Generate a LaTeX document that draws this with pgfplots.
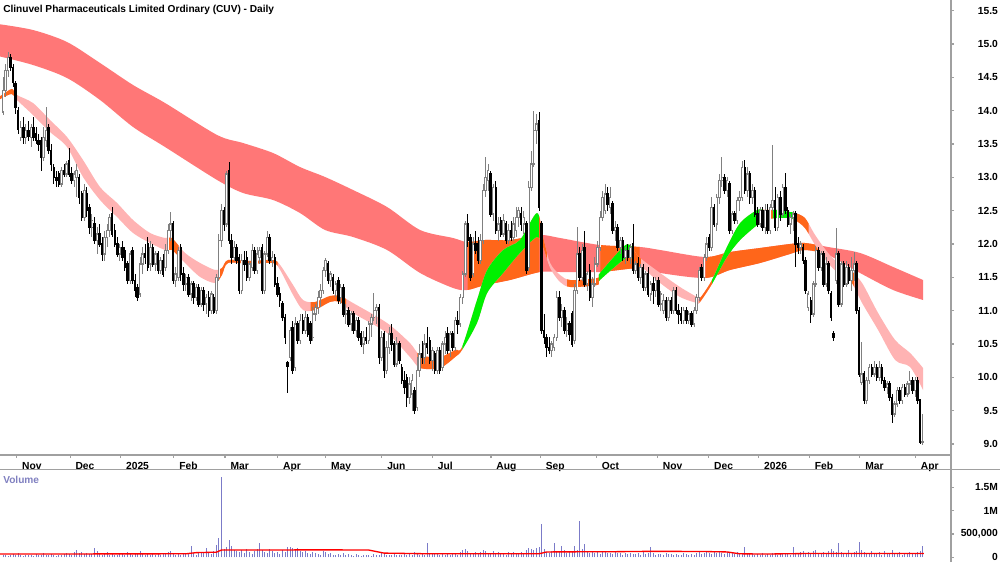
\documentclass[border=0pt]{standalone}
\usepackage{pgfplots}
\pgfplotsset{compat=1.18}
\usepackage{pgfplotstable}
\usepgfplotslibrary{fillbetween}
\usepackage{fontspec}
\setmainfont{Liberation Sans}

\definecolor{lred}{HTML}{FF7777}
\definecolor{spink}{HTML}{FFB3B3}
\definecolor{orng}{HTML}{FF661A}
\definecolor{grn}{HTML}{00F000}
\definecolor{volc}{HTML}{7B7BC8}
\definecolor{upg}{HTML}{808080}
\definecolor{axg}{HTML}{A0A0A0}
\definecolor{vlab}{HTML}{8080C0}

\pgfplotstableread{
o h l c
13.98 14.50 13.93 14.30
14.30 14.70 14.20 14.60
14.60 14.88 14.50 14.80
14.80 14.85 14.60 14.65
14.65 14.70 14.35 14.42
14.40 14.45 13.95 14.05
14.00 14.05 13.65 13.72
13.60 13.85 13.55 13.75
13.75 13.90 13.50 13.60
13.60 13.80 13.50 13.70
13.70 13.85 13.55 13.62
13.60 13.80 13.45 13.75
13.75 13.90 13.55 13.60
13.65 13.75 13.50 13.55
13.55 13.65 13.40 13.50
13.55 13.60 13.10 13.30
13.30 13.75 13.25 13.60
13.55 14.05 13.45 13.70
13.75 13.80 13.35 13.40
13.40 13.50 13.10 13.20
13.15 13.20 12.90 13.00
13.00 13.10 12.85 12.95
13.05 13.10 12.85 12.90
12.90 13.15 12.85 13.10
13.10 13.20 13.00 13.05
13.05 13.25 13.00 13.20
13.25 13.44 13.00 13.05
13.05 13.15 12.90 12.95
12.95 13.10 12.85 13.05
13.00 13.20 12.70 13.10
13.00 13.05 12.60 12.70
12.75 12.80 12.35 12.40
12.40 12.90 12.35 12.80
12.75 12.85 12.40 12.50
12.55 12.60 12.15 12.25
12.25 12.45 12.10 12.35
12.30 12.40 12.00 12.05
12.05 12.25 11.85 12.15
12.15 12.30 11.95 12.00
12.00 12.10 11.75 11.85
11.85 12.20 11.75 12.10
12.10 12.30 11.95 12.20
12.20 12.45 12.10 12.40
12.45 12.55 12.10 12.15
12.20 12.30 11.95 12.00
12.00 12.10 11.80 11.85
11.85 12.00 11.75 11.95
11.95 12.05 11.75 11.80
11.90 11.95 11.60 11.65
11.70 11.75 11.40 11.45
11.45 11.90 11.40 11.85
11.90 11.95 11.40 11.45
11.45 11.55 11.20 11.30
11.35 11.40 11.15 11.20
11.25 11.80 11.20 11.70
11.70 11.95 11.55 11.85
11.85 12.00 11.70 11.80
12.00 12.10 11.60 11.65
11.70 12.05 11.60 11.95
11.95 12.00 11.65 11.70
11.70 11.90 11.60 11.85
11.85 11.90 11.55 11.60
11.60 11.80 11.55 11.75
11.75 11.85 11.50 11.55
11.65 12.00 11.60 11.90
11.90 12.30 11.85 12.20
12.20 12.48 12.05 12.30
12.30 12.35 11.40 11.45
11.45 11.65 11.35 11.55
11.50 11.95 11.45 11.90
11.95 12.00 11.45 11.55
11.55 11.65 11.30 11.40
11.40 11.55 11.30 11.50
11.50 11.55 11.20 11.25
11.25 11.45 11.15 11.40
11.40 11.45 11.10 11.20
11.20 11.40 11.15 11.35
11.35 11.40 11.05 11.10
11.10 11.35 11.05 11.30
11.30 11.35 11.00 11.10
11.10 11.25 10.95 11.20
11.20 11.30 10.90 11.00
11.00 11.30 10.95 11.25
11.20 11.25 10.95 10.98
11.00 11.55 10.95 11.50
11.50 12.15 11.45 12.05
12.05 12.60 11.95 12.50
12.50 12.55 12.20 12.30
12.30 13.10 12.25 13.05
13.10 13.23 12.00 12.05
12.05 12.15 11.70 11.80
11.80 12.05 11.75 11.95
11.95 12.00 11.70 11.75
11.80 11.85 11.25 11.30
11.30 11.85 11.25 11.75
11.75 11.90 11.60 11.70
11.80 11.90 11.45 11.50
11.50 11.75 11.45 11.70
11.65 12.00 11.60 11.90
11.90 11.95 11.55 11.60
11.60 11.95 11.55 11.85
11.80 11.95 11.70 11.90
11.95 12.00 11.25 11.30
11.30 11.90 11.25 11.85
11.85 12.20 11.80 12.10
12.10 12.15 11.70 11.75
11.75 11.90 11.65 11.80
11.80 11.85 11.35 11.40
11.40 11.50 11.20 11.25
11.25 11.35 11.05 11.15
11.10 11.15 10.85 10.90
10.90 10.95 10.50 10.60
10.22 10.25 9.76 10.17
10.30 10.75 10.25 10.70
10.75 10.85 10.05 10.10
10.15 10.90 10.10 10.80
10.80 10.85 10.50 10.55
10.55 10.95 10.50 10.85
10.85 10.95 10.65 10.70
10.70 11.00 10.65 10.90
10.90 10.95 10.60 10.65
10.80 10.85 10.50 10.55
10.60 11.05 10.55 10.95
10.95 11.10 10.85 11.05
11.05 11.30 10.95 11.20
11.20 11.40 11.05 11.30
11.30 11.65 11.25 11.60
11.60 11.79 11.50 11.75
11.70 11.75 11.40 11.45
11.45 11.60 11.35 11.55
11.50 11.55 11.25 11.30
11.30 11.45 11.20 11.40
11.45 11.50 11.10 11.15
11.20 11.40 11.10 11.35
11.35 11.40 10.90 10.95
10.95 11.10 10.80 11.00
11.00 11.05 10.75 10.80
10.80 11.00 10.70 10.95
10.95 11.00 10.65 10.70
10.70 10.90 10.60 10.85
10.85 10.90 10.55 10.60
10.65 10.70 10.45 10.50
10.50 10.70 10.35 10.60
10.60 10.75 10.50 10.55
10.55 10.85 10.50 10.80
10.80 10.95 10.60 10.90
10.90 11.27 10.85 11.00
11.00 11.10 10.80 11.05
11.05 11.10 10.20 10.30
10.30 10.70 10.25 10.60
10.65 10.70 9.99 10.10
10.10 10.55 10.05 10.45
10.45 10.75 10.35 10.65
10.65 10.80 10.40 10.50
10.50 10.55 10.15 10.20
10.20 10.60 10.15 10.50
10.50 10.55 10.20 10.25
10.15 10.20 9.90 9.95
9.95 10.10 9.75 9.85
10.00 10.05 9.55 9.70
9.70 10.00 9.60 9.90
9.75 10.05 9.50 9.95
9.80 9.85 9.45 9.50
9.55 10.30 9.50 10.10
10.10 10.50 10.00 10.35
10.35 10.55 10.20 10.30
10.30 10.65 10.20 10.50
10.50 10.76 10.35 10.45
10.55 10.60 10.20 10.25
10.25 10.45 10.10 10.40
10.35 10.40 10.05 10.10
10.10 10.45 10.05 10.40
10.40 10.45 10.05 10.10
10.15 10.55 10.10 10.50
10.50 10.70 10.35 10.60
10.65 10.75 10.35 10.40
10.40 10.70 10.30 10.65
10.65 10.70 10.40 10.45
10.45 10.90 10.40 10.85
10.85 11.00 10.65 10.80
10.80 11.25 10.75 11.20
11.20 11.60 11.10 11.55
11.55 12.35 11.50 12.30
12.30 12.45 11.95 12.05
12.10 12.15 11.45 11.50
11.55 12.10 11.50 12.00
12.00 12.20 11.85 11.90
12.00 12.10 11.70 11.75
11.75 12.15 11.70 12.05
12.05 12.90 12.00 12.80
12.80 13.30 12.70 13.00
12.95 13.20 12.80 13.10
13.05 13.10 12.40 12.45
12.45 12.90 12.35 12.85
12.85 12.95 12.15 12.20
12.20 12.40 12.05 12.30
12.35 12.40 12.10 12.15
12.15 12.45 12.10 12.35
12.30 12.35 12.00 12.05
12.05 12.30 12.00 12.20
12.20 12.35 12.05 12.10
12.10 12.40 12.05 12.30
12.20 12.55 12.10 12.40
12.40 12.55 12.25 12.50
12.45 12.55 12.20 12.30
12.30 12.50 12.15 12.40
12.30 12.35 11.55 11.60
11.65 12.95 11.60 12.85
12.85 13.40 12.80 13.20
13.20 14.00 13.15 13.70
13.70 13.95 13.50 13.80
13.85 13.98 12.50 12.55
12.30 12.35 10.65 10.70
10.70 10.95 10.50 10.60
10.60 10.65 10.30 10.45
10.45 10.60 10.35 10.40
10.40 10.55 10.30 10.50
10.45 10.65 10.40 10.60
10.60 11.30 10.55 11.20
11.20 11.30 10.85 10.90
10.90 11.10 10.75 11.00
11.00 11.05 10.65 10.70
10.70 10.90 10.60 10.80
10.80 10.85 10.55 10.65
10.95 11.00 10.45 10.50
10.55 11.40 10.50 11.30
11.30 12.25 11.25 11.85
11.85 11.95 11.45 11.50
11.50 12.00 11.45 11.90
11.95 12.20 11.35 11.40
11.40 11.60 11.30 11.55
11.60 11.70 11.15 11.20
11.20 11.50 11.05 11.40
11.40 11.80 11.35 11.70
11.70 12.05 11.65 11.95
11.95 12.50 11.90 12.40
12.40 12.80 12.35 12.70
12.50 12.90 12.45 12.75
12.75 12.85 12.50 12.60
12.55 12.85 12.45 12.70
12.60 12.65 12.15 12.20
12.20 12.35 12.05 12.25
12.25 12.30 11.90 11.95
11.95 12.10 11.85 12.05
12.05 12.10 11.75 11.80
11.80 11.95 11.70 11.90
11.90 12.00 11.75 11.80
11.80 12.00 11.70 11.95
12.00 12.30 11.55 11.60
11.60 11.75 11.55 11.70
11.70 11.80 11.45 11.50
11.50 11.70 11.40 11.65
11.65 11.70 11.30 11.35
11.35 11.60 11.30 11.55
11.55 11.65 11.20 11.25
11.25 11.45 11.15 11.40
11.40 11.50 11.10 11.30
11.30 11.50 11.20 11.45
11.45 11.50 11.05 11.10
11.10 11.30 11.00 11.25
11.00 11.25 10.95 11.15
11.15 11.20 10.85 10.90
10.90 11.20 10.85 11.15
11.15 11.20 10.95 11.00
11.00 11.35 10.95 11.30
11.30 11.35 10.95 11.00
11.00 11.10 10.80 10.95
10.95 11.05 10.80 10.85
10.85 11.05 10.80 11.00
11.00 11.05 10.80 10.85
10.85 11.00 10.80 10.95
10.95 11.00 10.75 10.80
10.80 11.05 10.76 11.00
11.00 11.25 10.95 11.20
11.20 11.65 11.15 11.60
11.65 11.70 11.45 11.50
11.50 11.85 11.45 11.80
11.80 12.10 11.75 12.00
12.10 12.15 11.90 11.95
11.95 12.70 11.90 12.55
12.55 12.60 12.25 12.30
12.30 12.75 12.20 12.70
12.70 13.05 12.60 12.95
12.95 13.30 12.85 13.00
13.00 13.05 12.75 12.80
12.80 13.00 12.70 12.95
12.90 12.95 12.15 12.20
12.20 12.50 12.15 12.45
12.45 12.50 12.30 12.35
12.35 12.70 12.30 12.65
12.65 12.80 12.50 12.70
12.70 13.25 12.65 13.15
13.15 13.26 12.75 12.80
12.80 13.15 12.70 13.05
13.05 13.10 12.60 12.70
12.70 12.90 12.60 12.80
12.80 12.85 12.40 12.45
12.45 12.55 12.25 12.30
12.30 12.55 12.25 12.50
12.50 12.55 12.20 12.25
12.25 12.60 12.15 12.50
12.50 12.60 12.15 12.20
12.20 12.60 12.15 12.55
12.55 13.48 12.50 12.65
12.65 12.85 12.20 12.25
12.25 12.75 12.20 12.70
12.70 12.80 12.35 12.45
12.45 12.90 12.40 12.85
12.85 13.06 12.45 12.50
12.50 12.55 12.25 12.30
12.30 12.45 12.15 12.40
12.40 12.50 12.20 12.45
12.45 12.50 11.65 12.00
12.00 12.10 11.85 11.95
11.95 12.05 11.85 12.00
11.95 12.00 11.70 11.75
11.75 11.80 11.25 11.30
11.05 11.30 11.00 11.25
11.15 11.20 10.81 10.95
10.95 11.45 10.90 11.40
11.40 11.97 11.35 11.90
11.90 11.95 11.60 11.65
11.65 11.90 11.60 11.85
11.85 11.90 11.35 11.40
11.40 11.80 11.35 11.70
11.70 11.75 11.25 11.30
11.25 11.30 10.85 10.90
10.65 10.70 10.55 10.60
11.45 12.24 11.40 11.85
11.85 11.90 11.05 11.10
11.10 11.75 11.05 11.70
11.70 11.75 11.35 11.40
11.40 11.75 11.35 11.65
11.65 11.70 11.40 11.45
11.45 11.80 11.30 11.60
11.60 11.88 11.45 11.70
11.70 11.75 10.95 11.00
11.00 11.05 10.00 10.05
9.92 10.53 9.88 10.05
10.05 10.10 9.60 9.65
9.65 10.00 9.60 9.95
9.95 10.20 9.90 10.15
10.15 10.20 10.00 10.05
10.05 10.25 10.00 10.15
10.15 10.20 9.95 10.00
10.00 10.25 9.95 10.15
10.15 10.20 9.90 9.95
9.95 10.00 9.80 9.85
9.85 9.95 9.75 9.90
9.90 9.95 9.65 9.70
9.70 9.75 9.31 9.45
9.45 9.65 9.40 9.60
9.60 9.85 9.55 9.80
9.80 9.85 9.60 9.65
9.65 9.90 9.60 9.85
9.85 9.90 9.70 9.75
9.75 9.95 9.70 9.90
9.90 10.10 9.75 9.95
9.95 10.00 9.75 9.80
9.80 10.00 9.70 9.95
9.95 10.00 9.60 9.66
9.66 9.68 9.00 9.03
9.03 9.45 8.99 9.04
}\ohlc
\pgfplotstablecreatecol[expr={\pgfplotstablerow}]{i}{\ohlc}

\pgfplotstableread{
i t b
-2 15.30 14.82
11.8 15.21 14.685
25.2 15.03 14.49
38.2 14.715 14.16
51.2 14.385 13.755
63.8 14.115 13.455
84.3 13.635 12.96
94.5 13.515 12.765
106.3 13.365 12.66
116.9 13.155 12.465
126.8 13.005 12.21
137.8 12.81 12.105
151.2 12.555 11.91
164.2 12.21 11.565
177.2 12.09 11.34
182.7 12.03 11.31
189.8 12.06 11.385
199.6 12.06 11.46
211.4 12.135 11.58
219.3 12.09 11.58
235 11.985 11.58
250.8 11.955 11.64
258.7 11.91 11.565
276.4 11.805 11.49
286.2 11.88 11.61
298 11.94 11.715
309.8 12.0 11.85
315.7 12.015 11.91
324.8 11.955 11.835
337.4 11.865 11.565
350.4 11.655 11.31
362.2 11.46 11.16
}\lband

\pgfplotstableread{
i t b
-2 14.20 14.15
-0.4 14.235 14.19
3.5 14.325 14.25
5.5 14.235 14.16
11.8 14.115 13.935
18.5 13.86 13.68
25.2 13.605 13.455
31.5 13.26 13.005
38.2 12.855 12.66
44.9 12.615 12.405
51.2 12.36 12.165
57.9 12.165 12.015
63.8 12.09 11.91
66.5 12.09 11.91
71.7 11.865 11.715
77.6 11.715 11.505
83.5 11.61 11.415
86.2 11.64 11.535
88.6 11.76 11.715
97.2 11.745 11.70
106.3 11.76 11.715
109.1 11.685 11.61
114.2 11.385 11.235
118.1 11.16 11.01
122.8 11.13 11.01
128.7 11.22 11.13
132.7 11.22 11.13
137.8 11.115 10.965
151.2 10.815 10.665
160.2 10.515 10.305
164.2 10.335 10.14
172 10.305 10.14
178 10.41 10.305
180.7 10.455 10.41
186.6 11.16 10.815
190.6 11.61 11.265
196.9 11.91 11.565
203.5 12.06 11.865
210.2 12.465 12.105
212.6 12.105 11.955
215.4 11.715 11.64
219.3 11.535 11.43
223.4 11.46 11.355
233.9 11.49 11.385
235 11.565 11.46
244.1 11.955 11.76
246.9 11.985 11.805
249.6 11.835 11.685
252.8 11.73 11.61
258.7 11.565 11.415
266.5 11.355 11.205
273.2 11.205 11.115
274.4 11.19 11.13
279.1 11.46 11.40
285 11.955 11.805
290.2 12.315 12.06
296.9 12.51 12.285
300 12.51 12.36
304.7 12.51 12.39
309.8 12.48 12.39
311.8 12.465 12.36
315.7 12.39 12.24
319.7 12.135 11.985
324.8 11.865 11.715
329.5 11.685 11.535
333.5 11.61 11.46
338.2 11.415 11.115
344.5 10.965 10.71
351.2 10.56 10.26
357.1 10.365 10.155
362.2 10.14 9.81
}\sband

\pgfplotstableread[row sep=\\]{
v\\
45\\60\\30\\55\\70\\40\\85\\50\\35\\60\\
40\\55\\30\\65\\45\\50\\90\\60\\40\\75\\
55\\35\\60\\45\\80\\95\\70\\50\\110\\160\\
90\\120\\65\\100\\80\\70\\200\\130\\90\\60\\
75\\110\\50\\85\\60\\45\\70\\95\\55\\120\\
80\\60\\100\\70\\130\\90\\55\\75\\60\\85\\
50\\70\\45\\90\\65\\110\\140\\85\\60\\75\\
55\\80\\95\\70\\240\\100\\60\\85\\120\\90\\
200\\110\\75\\130\\260\\410\\1720\\180\\220\\370\\
240\\160\\130\\110\\150\\90\\170\\120\\80\\140\\
180\\300\\150\\120\\100\\170\\130\\90\\110\\80\\
150\\120\\220\\230\\200\\160\\190\\140\\110\\130\\
90\\70\\120\\100\\80\\60\\140\\110\\70\\90\\
60\\45\\80\\55\\100\\40\\65\\50\\35\\70\\
45\\30\\60\\40\\55\\35\\80\\50\\40\\90\\
70\\45\\60\\50\\80\\40\\55\\45\\70\\60\\
90\\50\\110\\75\\60\\80\\55\\300\\100\\70\\
65\\90\\50\\75\\60\\85\\45\\70\\95\\60\\
110\\150\\180\\130\\100\\90\\120\\80\\110\\150\\
130\\100\\85\\140\\95\\110\\70\\90\\60\\105\\
80\\120\\90\\70\\110\\85\\150\\200\\170\\160\\
190\\220\\710\\180\\120\\100\\140\\300\\130\\110\\
240\\150\\90\\130\\110\\240\\160\\780\\170\\280\\
120\\100\\140\\90\\110\\80\\130\\120\\100\\90\\
70\\110\\85\\95\\60\\100\\75\\90\\65\\80\\
90\\60\\110\\70\\85\\220\\95\\60\\80\\70\\
55\\90\\65\\80\\50\\75\\60\\45\\85\\70\\
60\\80\\50\\95\\110\\70\\90\\130\\100\\80\\
110\\90\\140\\100\\75\\120\\85\\95\\70\\110\\
90\\80\\220\\100\\65\\85\\55\\70\\60\\90\\
50\\75\\60\\95\\70\\55\\80\\65\\90\\70\\
60\\220\\100\\80\\120\\140\\95\\110\\70\\130\\
150\\100\\80\\120\\90\\140\\170\\130\\110\\300\\
120\\90\\100\\150\\85\\110\\130\\330\\160\\120\\
100\\80\\140\\70\\90\\110\\60\\130\\80\\100\\
150\\90\\70\\110\\60\\100\\80\\120\\90\\70\\
110\\140\\240\\
}\vol
\pgfplotstablecreatecol[expr={\pgfplotstablerow}]{i}{\vol}

\pgfplotstableread{
i m
-2 70
72 75
76 100
84 110
86 155
128.7 160
144 155
150 90
168 75
211 75
214 115
240 120
255 128
275 125
285 115
290 75
300 70
315 80
362.5 80
}\volma

\newcommand{\tfont}{\fontsize{7.7}{9}\selectfont\bfseries}

\pgfplotsset{
  chartbase/.style={
    scale only axis, width=713.25pt,
    xmin=-1.18, xmax=373.2,
    axis line style={draw=none},
    tick align=outside,
    major tick length=2.4pt,
    tick style={axg, line width=0.8pt},
    ticklabel style={font=\tfont},
    ytick pos=right, yticklabel pos=right,
    yticklabel style={anchor=east, xshift=36.3pt},
  },
  wick/.style={mark=none, draw=none, forget plot},
}

\begin{document}
\begin{tikzpicture}
\begin{axis}[chartbase, at={(0pt,80.25pt)}, anchor=south west,
  height=341.25pt, ymin=8.835, ymax=15.66,
  xtick={5.4,26.4,46.3,67.3,87.4,108.1,127,149.1,169,192.1,211.5,233.6,257.6,277.8,297.5,317.4,337.3,359.2},
  xticklabels={Nov,Dec,2025,Feb,Mar,Apr,May,Jun,Jul,Aug,Sep,Oct,Nov,Dec,2026,Feb,Mar,Apr},
  xtick pos=left, xticklabel pos=left,
  xticklabel style={anchor=north west, xshift=0.6pt, yshift=0.5pt},
  ytick={9,9.5,...,15.5},
  yticklabels={9.0,9.5,10.0,10.5,11.0,11.5,12.0,12.5,13.0,13.5,14.0,14.5,15.0,15.5},
]
\addplot[draw=none, name path=LT, smooth] table[x=i, y=t] {\lband};
\addplot[draw=none, name path=LB, smooth] table[x=i, y=b] {\lband};
\addplot[draw=none, name path=ST, smooth] table[x=i, y=t] {\sband};
\addplot[draw=none, name path=SB, smooth] table[x=i, y=b] {\sband};

% long band: full red, then orange overlays
\addplot[fill=lred, draw=none] fill between[of=LT and LB];
\addplot[fill=orng, draw=none] fill between[of=LT and LB, soft clip={domain=182.9:211.2}];
\addplot[fill=orng, draw=none] fill between[of=LT and LB, soft clip={domain=235.2:250.6}];
\addplot[fill=orng, draw=none] fill between[of=LT and LB, soft clip={domain=276.6:321.2}];

% short band: full pink, then orange / green overlays
\addplot[fill=spink, draw=none] fill between[of=ST and SB];
\addplot[fill=orng, draw=none] fill between[of=ST and SB, soft clip={domain=-2:5.6}];
\addplot[fill=orng, draw=none] fill between[of=ST and SB, soft clip={domain=65.1:69.1}];
\addplot[fill=orng, draw=none] fill between[of=ST and SB, soft clip={domain=85.1:108.1}];
\addplot[fill=orng, draw=none] fill between[of=ST and SB, soft clip={domain=121.1:135.1}];
\addplot[fill=orng, draw=none] fill between[of=ST and SB, soft clip={domain=163.1:180.8}];
\addplot[fill=grn, draw=none] fill between[of=ST and SB, soft clip={domain=180.8:211.1}];
\addplot[fill=orng, draw=none] fill between[of=ST and SB, soft clip={domain=211.1:214.1}];
\addplot[fill=orng, draw=none] fill between[of=ST and SB, soft clip={domain=222.1:234.6}];
\addplot[fill=grn, draw=none] fill between[of=ST and SB, soft clip={domain=234.6:248.1}];
\addplot[fill=orng, draw=none] fill between[of=ST and SB, soft clip={domain=248.1:251.1}];
\addplot[fill=orng, draw=none] fill between[of=ST and SB, soft clip={domain=274.1:279.2}];
\addplot[fill=grn, draw=none] fill between[of=ST and SB, soft clip={domain=279.2:299.1}];
\addplot[fill=orng, draw=none] fill between[of=ST and SB, soft clip={domain=299.1:303.1}];
\addplot[fill=grn, draw=none] fill between[of=ST and SB, soft clip={domain=303.1:311.1}];
\addplot[fill=orng, draw=none] fill between[of=ST and SB, soft clip={domain=311.1:317.1}];
\addplot[fill=orng, draw=none] fill between[of=ST and SB, soft clip={domain=328.1:335.1}];

% up candles: wicks
\addplot[wick, restrict expr to domain={\thisrow{c}-\thisrow{o}}{0:100},
  error bars/.cd, y dir=both, y explicit, error mark=none,
  error bar style={line width=0.65pt, draw=upg}]
  table[x=i, y expr={(\thisrow{h}+\thisrow{l})/2},
        y error plus expr={(\thisrow{h}-\thisrow{l})/2},
        y error minus expr={(\thisrow{h}-\thisrow{l})/2}] {\ohlc};
% up candles: bodies
\addplot[wick, restrict expr to domain={\thisrow{c}-\thisrow{o}}{0:100},
  error bars/.cd, y dir=both, y explicit, error mark=none,
  error bar style={line width=1.85pt, draw=upg}]
  table[x=i, y expr={(\thisrow{o}+\thisrow{c})/2},
        y error plus expr={(\thisrow{c}-\thisrow{o})/2+0.008},
        y error minus expr={(\thisrow{c}-\thisrow{o})/2+0.008}] {\ohlc};
\addplot[wick, restrict expr to domain={\thisrow{c}-\thisrow{o}}{0.021:100},
  error bars/.cd, y dir=both, y explicit, error mark=none,
  error bar style={line width=0.55pt, draw=white}]
  table[x=i, y expr={(\thisrow{o}+\thisrow{c})/2},
        y error plus expr={(\thisrow{c}-\thisrow{o})/2-0.008},
        y error minus expr={(\thisrow{c}-\thisrow{o})/2-0.008}] {\ohlc};
% down candles
\addplot[wick, restrict expr to domain={\thisrow{c}-\thisrow{o}}{-100:-0.0001},
  error bars/.cd, y dir=both, y explicit, error mark=none,
  error bar style={line width=0.65pt, draw=black}]
  table[x=i, y expr={(\thisrow{h}+\thisrow{l})/2},
        y error plus expr={(\thisrow{h}-\thisrow{l})/2},
        y error minus expr={(\thisrow{h}-\thisrow{l})/2}] {\ohlc};
\addplot[wick, restrict expr to domain={\thisrow{c}-\thisrow{o}}{-100:-0.0001},
  error bars/.cd, y dir=both, y explicit, error mark=none,
  error bar style={line width=1.85pt, draw=black}]
  table[x=i, y expr={(\thisrow{o}+\thisrow{c})/2},
        y error plus expr={(\thisrow{o}-\thisrow{c})/2+0.008},
        y error minus expr={(\thisrow{o}-\thisrow{c})/2+0.008}] {\ohlc};
\end{axis}

\begin{axis}[chartbase, at={(0pt,0pt)}, anchor=south west,
  height=69pt, ymin=-101, ymax=1873,
  xtick=\empty,
  ytick={0,500,1000,1500},
  yticklabels={0,{500,000},1M,1.5M},
]
\addplot[ycomb, draw=volc, line width=0.65pt, mark=none] table[x=i, y=v] {\vol};
\addplot[draw=red, line width=1pt, mark=none] table[x=i, y=m] {\volma};
\end{axis}

\begin{scope}[x=0.75pt, y=0.75pt]
\draw[axg, line width=0.9pt] (951,0) -- (951,562);
\draw[axg, line width=1pt] (0,107) -- (951,107);
\draw[axg, line width=1pt] (0,92.5) -- (1000,92.5);
\node[anchor=base west, inner sep=0pt, font=\fontsize{7.6}{9}\selectfont\bfseries] at (3,549.5) {Clinuvel Pharmaceuticals Limited Ordinary (CUV) - Daily};
\node[anchor=base west, inner sep=0pt, text=vlab, font=\fontsize{7.6}{9}\selectfont\bfseries] at (3,79) {Volume};
\end{scope}
\pgfresetboundingbox
\path[use as bounding box] (0pt,0pt) rectangle (750pt,421.5pt);
\end{tikzpicture}
\end{document}
